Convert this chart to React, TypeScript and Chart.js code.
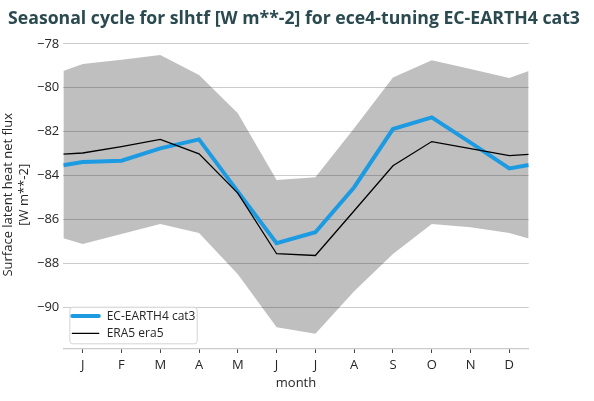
import { useEffect, useRef } from "react";
import { Chart, registerables, type Plugin } from "chart.js";

Chart.register(...registerables);

const MONTHS = ["J", "F", "M", "A", "M", "J", "J", "A", "S", "O", "N", "D"];
// month positions, plus the wrapped half-month at each end
const X_POS = [0.5, 1, 2, 3, 4, 5, 6, 7, 8, 9, 10, 11, 12, 12.5];
const Y_TICKS = [-90, -88, -86, -84, -82, -80, -78];

const EC_EARTH = [
  -83.53, -83.38, -83.32, -82.76, -82.35, -84.73, -87.08, -86.58, -84.53, -81.88,
  -81.35, -82.5, -83.67, -83.52,
];
const ERA5 = [
  -83.02, -82.97, -82.68, -82.35, -83.01, -84.8, -87.56, -87.64, -85.6, -83.55,
  -82.45, -82.77, -83.09, -83.03,
];
const BAND_UPPER = [
  -79.24, -78.92, -78.72, -78.51, -79.42, -81.16, -84.2, -84.07, -81.84, -79.53,
  -78.74, -79.14, -79.55, -79.23,
];
const BAND_LOWER = [
  -86.85, -87.12, -86.66, -86.21, -86.62, -88.5, -90.91, -91.21, -89.27, -87.57,
  -86.2, -86.35, -86.62, -86.87,
];

const TITLE = "Seasonal cycle for slhtf [W m**-2] for ece4-tuning EC-EARTH4 cat3";
const BLUE = "#1d9be2";
const FONT = "'Open Sans', sans-serif";

const pts = (ys: number[]) => ys.map((y, i) => ({ x: X_POS[i], y }));

// figure title spans nearly the full width, so draw it outside chart.js's title box
const figTitle: Plugin = {
  id: "figTitle",
  afterDraw(chart) {
    const { ctx, width } = chart;
    ctx.save();
    ctx.font = `bold 17px ${FONT}`;
    const size = (17 * 572) / ctx.measureText(TITLE).width;
    ctx.font = `bold ${size.toFixed(2)}px ${FONT}`;
    ctx.fillStyle = "#2a4a50";
    ctx.textAlign = "center";
    ctx.textBaseline = "alphabetic";
    ctx.fillText(TITLE, width / 2 - 3, 24);
    ctx.restore();
  },
};

const legendBox: Plugin = {
  id: "legendBox",
  afterDraw(chart) {
    const { ctx, chartArea } = chart;
    const x0 = chartArea.left + 6;
    const y1 = chartArea.bottom - 5.7;
    const w = 127.4;
    const h = 36.6;
    const y0 = y1 - h;
    ctx.save();
    ctx.beginPath();
    ctx.roundRect(x0 + 0.5, y0 + 0.5, w, h, 3);
    ctx.fillStyle = "rgba(255,255,255,0.8)";
    ctx.fill();
    ctx.strokeStyle = "#d4d4d4";
    ctx.lineWidth = 1;
    ctx.stroke();

    const entries = [
      { label: "EC-EARTH4 cat3", color: BLUE, width: 4 },
      { label: "ERA5 era5", color: "#000000", width: 1.3 },
    ];
    ctx.font = `12px ${FONT}`;
    ctx.textBaseline = "middle";
    entries.forEach((e, i) => {
      const cy = y0 + 9.3 + i * 17.3;
      ctx.beginPath();
      ctx.moveTo(x0 + 3, cy);
      ctx.lineTo(x0 + 29.5, cy);
      ctx.strokeStyle = e.color;
      ctx.lineWidth = e.width;
      ctx.lineCap = "round";
      ctx.stroke();
      ctx.fillStyle = "#262626";
      ctx.fillText(e.label, x0 + 37.4, cy + 0.5);
    });
    ctx.restore();
  },
};

export default function App() {
  const canvasRef = useRef<HTMLCanvasElement>(null);
  const chartRef = useRef<Chart | null>(null);

  useEffect(() => {
    if (!canvasRef.current) return;
    chartRef.current = new Chart(canvasRef.current, {
      type: "line",
      data: {
        datasets: [
          {
            label: "ERA5 era5",
            data: pts(ERA5),
            borderColor: "#000000",
            borderWidth: 1.3,
            pointRadius: 0,
            fill: false,
            order: 0,
          },
          {
            label: "EC-EARTH4 cat3",
            data: pts(EC_EARTH),
            borderColor: BLUE,
            borderWidth: 4,
            pointRadius: 0,
            fill: false,
            order: 1,
          },
          {
            label: "upper",
            data: pts(BAND_UPPER),
            borderWidth: 0,
            borderColor: "rgba(0,0,0,0)",
            backgroundColor: "rgba(0,0,0,0.25)",
            pointRadius: 0,
            fill: "+1",
            order: 2,
          },
          {
            label: "lower",
            data: pts(BAND_LOWER),
            borderWidth: 0,
            borderColor: "rgba(0,0,0,0)",
            pointRadius: 0,
            fill: false,
            order: 3,
          },
        ],
      },
      options: {
        animation: false,
        responsive: false,
        layout: { padding: { right: 65.3, left: 0, top: 40.6, bottom: 0 } },
        plugins: {
          legend: { display: false },
          tooltip: { enabled: false },
          title: { display: false },
        },
        scales: {
          x: {
            type: "linear",
            min: 0.5,
            max: 12.5,
            afterBuildTicks: (scale) => {
              scale.ticks = MONTHS.map((_, i) => ({ value: i + 1 }));
            },
            afterFit: (scale) => {
              scale.height = 52;
            },
            ticks: {
              autoSkip: false,
              maxRotation: 0,
              padding: 4,
              color: "#262626",
              font: { family: FONT, size: 13 },
              callback: (v) => MONTHS[Number(v) - 1] ?? "",
            },
            grid: {
              drawOnChartArea: false,
              drawTicks: true,
              tickLength: 4,
              tickColor: "#444444",
              lineWidth: 1,
            },
            border: { display: true, color: "#cccccc", width: 1.25 },
            title: {
              display: true,
              text: "month",
              color: "#262626",
              font: { family: FONT, size: 13 },
              padding: { top: 0, bottom: 10 },
            },
          },
          y: {
            min: -91.9,
            max: -77.85,
            afterBuildTicks: (scale) => {
              scale.ticks = Y_TICKS.map((v) => ({ value: v }));
            },
            afterFit: (scale) => {
              scale.width = 63.3;
            },
            ticks: {
              padding: 4,
              color: "#262626",
              font: { family: FONT, size: 13 },
              callback: (v) => String(v).replace("-", "\u2212"),
            },
            grid: { color: "#cccccc", lineWidth: 1, drawTicks: false },
            border: { display: false },
            title: {
              display: true,
              text: ["Surface latent heat net flux", "[W m**-2]"],
              color: "#262626",
              font: { family: FONT, size: 13 },
              padding: { top: 0.5, bottom: 0 },
            },
          },
        },
      },
      plugins: [legendBox, figTitle],
    });
    return () => {
      chartRef.current?.destroy();
      chartRef.current = null;
    };
  }, []);

  return (
    <div style={{ position: "fixed", left: 0, top: 0, width: 594, height: 401, background: "#fff" }}>
      <canvas ref={canvasRef} width={594} height={401} />
    </div>
  );
}
